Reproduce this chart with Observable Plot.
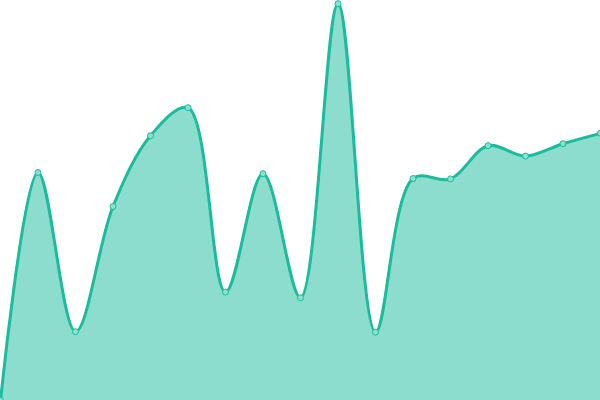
<!DOCTYPE html>
<html>
<head>
<meta charset="utf-8">
<script src="https://cdn.jsdelivr.net/npm/d3@7"></script>
<script src="https://cdn.jsdelivr.net/npm/@observablehq/plot@0.6"></script>
<style>
  html, body { margin: 0; padding: 0; background: #fff; }
  svg { display: block; overflow: hidden; }
</style>
</head>
<body>
<div id="chart"></div>
<script>
const indices = [0,1,2,3,4,5,6,7,8,9,10,11,12,13,14,15,16];
const values = [0, 57, 17.2, 48.5, 66.2, 73.2, 27.1, 56.7, 25.7, 99.2, 17.1, 55.5, 55.4, 63.7, 61.1, 64.2, 66.8];
const data = indices.map((i, k) => ({x: i, y: values[k]}));

const lineColor = "#1abc9c";

const chart = Plot.plot({
  width: 600,
  height: 400,
  margin: 0,
  x: {domain: [0, 16], axis: null},
  y: {domain: [0, 100], axis: null},
  marks: [
    Plot.areaY(data, {x: "x", y: "y", curve: "catmull-rom", fill: lineColor, fillOpacity: 0.5}),
    Plot.lineY(data, {x: "x", y: "y", curve: "catmull-rom", stroke: lineColor, strokeWidth: 3}),
    Plot.dot(data, {x: "x", y: "y", r: 3, fill: "#8be0cf", stroke: lineColor, strokeWidth: 1})
  ]
});
document.getElementById("chart").appendChild(chart);
</script>
</body>
</html>
